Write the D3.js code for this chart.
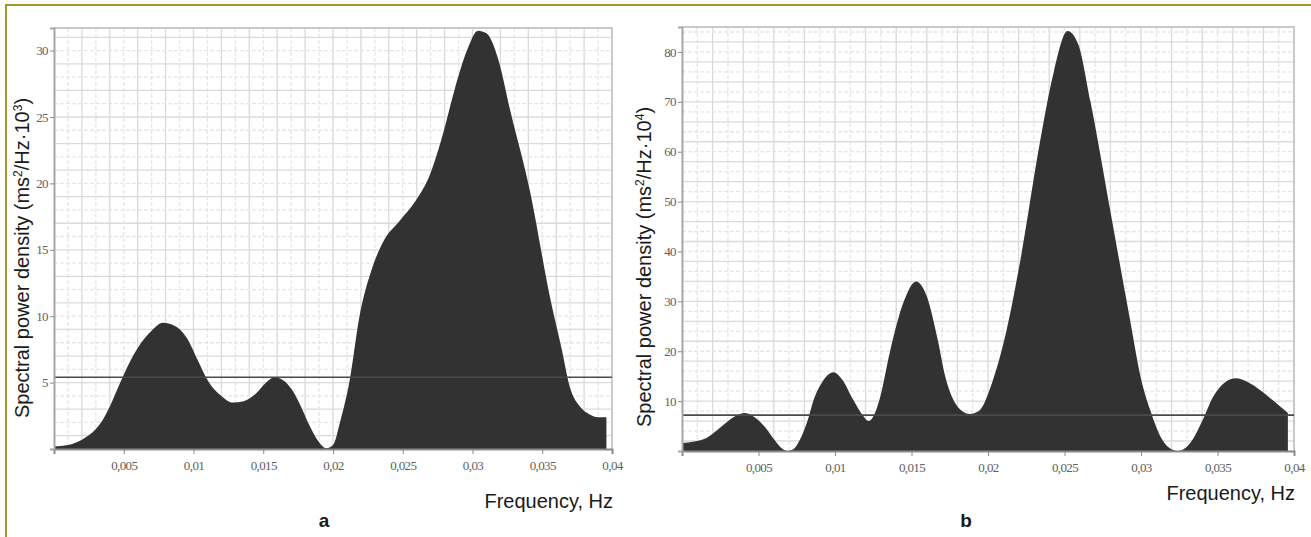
<!DOCTYPE html>
<html>
<head>
<meta charset="utf-8">
<script src="https://cdn.jsdelivr.net/npm/d3@7"></script>
<style>
  body { margin: 0; background: #fff; }
  svg { display: block; }
</style>
</head>
<body>
<script>
// Panel a: spectral power density, ms²/Hz·10³
const freqA = [0, 0.001, 0.002, 0.003, 0.0035, 0.004, 0.0045, 0.005, 0.006, 0.007, 0.0078, 0.0086, 0.0095,
  0.0103, 0.011, 0.012, 0.0128, 0.0136, 0.0145, 0.0152, 0.0158, 0.0164, 0.0171, 0.0177, 0.0183, 0.019,
  0.0195, 0.02, 0.0205, 0.0212, 0.0219, 0.0228, 0.0236, 0.0248, 0.0258, 0.027, 0.0279, 0.0287, 0.0296,
  0.0304, 0.031, 0.0318, 0.0327, 0.0341, 0.0356, 0.0364, 0.037, 0.0377, 0.0384, 0.039, 0.0396]
const psdA = [0.2, 0.3, 0.7, 1.5, 2.2, 3.2, 4.4, 5.6, 7.6, 8.9, 9.5, 9.3, 8.4,
  6.7, 5.2, 4.0, 3.5, 3.6, 4.2, 5.0, 5.4, 5.2, 4.4, 3.2, 1.8, 0.5,
  0.05, 0.3, 2.0, 5.2, 10.0, 13.6, 15.6, 17.2, 18.5, 20.8, 23.8, 27.0, 30.0,
  31.5, 31.3, 29.5, 25.5, 19.5, 11.2, 7.5, 4.6, 3.2, 2.6, 2.4, 2.4]

// Panel b: spectral power density, ms²/Hz·10⁴
const freqB = [0, 0.0008, 0.0016, 0.0027, 0.0035, 0.0041, 0.0049, 0.0055, 0.006, 0.0065, 0.0069, 0.0073,
  0.0077, 0.0082, 0.0086, 0.0092, 0.0099, 0.0105, 0.0112, 0.0118, 0.0122, 0.0126, 0.0129, 0.0136, 0.0145,
  0.0153, 0.016, 0.0167, 0.0172, 0.0177, 0.0183, 0.0188, 0.0194, 0.0203, 0.0212, 0.0221, 0.0234, 0.0243,
  0.0252, 0.0259, 0.0267, 0.028, 0.0293, 0.03, 0.0306, 0.0314, 0.0319, 0.0324, 0.0329, 0.0334, 0.034,
  0.0347, 0.0355, 0.0362, 0.037, 0.0378, 0.0386, 0.0396]
const psdB = [1.6, 1.9, 2.6, 5.2, 7.0, 7.6, 6.4, 4.5, 2.4, 0.6, 0, 0.4,
  2.2, 6.0, 10.2, 14.0, 15.8, 14.2, 10.2, 7.2, 6.0, 7.5, 10.2, 20.0, 30.0,
  34.0, 31.0, 22.5, 15.0, 10.5, 8.0, 7.4, 8.0, 14.0, 24.0, 38.0, 62.0, 76.0,
  84.2, 81.5, 70.0, 48.0, 26.0, 14.5, 8.2, 2.2, 0.5, 0, 0.6, 2.4, 6.0,
  10.8, 13.8, 14.6, 13.8, 12.2, 10.2, 7.6]

const xTicks = [0.005, 0.01, 0.015, 0.02, 0.025, 0.03, 0.035, 0.04]
const yTicksA = [5, 10, 15, 20, 25, 30]
const yTicksB = [10, 20, 30, 40, 50, 60, 70, 80]
const thresholdA = 5.4
const thresholdB = 7.2

const W = 1311
const H = 537
const sans = "'Liberation Sans', Arial, sans-serif"

const svg = d3.select('body').append('svg')
  .attr('width', W)
  .attr('height', H)

svg.append('rect').attr('width', W).attr('height', H).attr('fill', '#fff')

// Olive outer frame (only top and left edges fall inside the picture)
svg.append('rect')
  .attr('x', 6).attr('y', 5)
  .attr('width', W + 20).attr('height', H + 20)
  .attr('fill', 'none')
  .attr('stroke', '#a0972c')
  .attr('stroke-width', 2)

const commaFmt = d => String(d).replace('.', ',')

function drawPanel(cfg) {
  const x = d3.scaleLinear().domain([0, 0.04]).range([cfg.left, cfg.right])
  const y = d3.scaleLinear().domain([0, cfg.yMax]).range([cfg.bottom, cfg.top])
  const g = svg.append('g')

  // Minor grid
  const xGrid = d3.range(1, 40).map(i => i * 0.001)
  xGrid.forEach((v, i) => {
    g.append('line')
      .attr('x1', x(v)).attr('x2', x(v))
      .attr('y1', cfg.top).attr('y2', cfg.bottom)
      .attr('stroke', i % 2 === 0 ? '#e6e6e6' : '#d9d9d9')
      .attr('stroke-width', 1.3)
      .attr('stroke-dasharray', i % 2 === 0 ? '4,2' : null)
  })
  const yGrid = d3.range(cfg.yStep, cfg.yMax, cfg.yStep)
  yGrid.forEach((v, i) => {
    g.append('line')
      .attr('x1', cfg.left).attr('x2', cfg.right)
      .attr('y1', y(v)).attr('y2', y(v))
      .attr('stroke', i % 2 === 0 ? '#dbdbdb' : '#e6e6e6')
      .attr('stroke-width', 1.3)
      .attr('stroke-dasharray', i % 2 === 0 ? null : '4,2')
  })

  // Frame top and right
  g.append('path')
    .attr('d', `M${cfg.left},${cfg.top}H${cfg.right}V${cfg.bottom}`)
    .attr('fill', 'none')
    .attr('stroke', '#c9c9c9')
    .attr('stroke-width', 2)

  // Spectrum area
  const pts = cfg.freq.map((f, i) => [f, cfg.psd[i]])
  const area = d3.area()
    .x(d => x(d[0]))
    .y0(y(0))
    .y1(d => y(d[1]))
    .curve(d3.curveMonotoneX)
  g.append('path')
    .datum(pts)
    .attr('d', area)
    .attr('fill', '#323232')

  // Threshold line
  g.append('line')
    .attr('x1', cfg.left).attr('x2', cfg.right)
    .attr('y1', y(cfg.threshold)).attr('y2', y(cfg.threshold))
    .attr('stroke', '#4a4a4a')
    .attr('stroke-width', 1.6)

  // Axes
  const xAxis = d3.axisBottom(x).tickValues(xTicks).tickSize(5).tickPadding(7).tickFormat(commaFmt)
  const yAxis = d3.axisLeft(y).tickValues(cfg.yTicks).tickSize(4).tickPadding(2)

  const gx = g.append('g').attr('transform', `translate(0,${cfg.bottom})`).call(xAxis)
  const gy = g.append('g').attr('transform', `translate(${cfg.left},0)`).call(yAxis)

  gx.select('.domain').attr('stroke', '#8a8a8a').attr('stroke-width', 2)
  gy.select('.domain').attr('stroke', '#a6a6a6').attr('stroke-width', 2)
  gx.selectAll('.tick line').attr('stroke', '#8a8a8a')
  gy.selectAll('.tick line').attr('stroke', '#8a8a8a')
  ;[gx, gy].forEach(a => a.selectAll('.tick text')
    .style('font-family', "'Liberation Serif', 'DejaVu Serif', serif")
    .style('font-size', '13px')
    .style('letter-spacing', '-0.6px')
    .attr('fill', '#606060'))

  // Y title with superscripts
  const yt = g.append('text')
    .attr('transform', `translate(${cfg.yTitleX},${cfg.yTitleY}) rotate(-90)`)
    .attr('text-anchor', 'middle')
    .style('font-family', sans)
    .style('font-size', '20px')
    .attr('fill', '#1a1a1a')
  yt.append('tspan').text('Spectral power density (ms')
  yt.append('tspan').attr('dy', -7).style('font-size', '12px').text('2')
  yt.append('tspan').attr('dy', 7).text('/Hz·10')
  yt.append('tspan').attr('dy', -7).style('font-size', '12px').text(cfg.exp)
  yt.append('tspan').attr('dy', 7).text(')')

  // X title
  g.append('text')
    .attr('x', cfg.right + 1)
    .attr('y', cfg.xTitleY)
    .attr('text-anchor', 'end')
    .style('font-family', sans)
    .style('font-size', '20px')
    .attr('fill', '#1a1a1a')
    .text('Frequency, Hz')

  // Panel letter
  g.append('text')
    .attr('x', cfg.letterX)
    .attr('y', 527)
    .attr('text-anchor', 'middle')
    .style('font-family', sans)
    .style('font-size', '19px')
    .style('font-weight', 700)
    .attr('fill', '#1a1a1a')
    .text(cfg.letter)
}

drawPanel({
  left: 54, right: 612, top: 28, bottom: 449,
  yMax: 31.7, yStep: 1, yTicks: yTicksA,
  freq: freqA, psd: psdA, threshold: thresholdA,
  yTitleX: 29, yTitleY: 258, exp: '3',
  xTitleY: 508, letter: 'a', letterX: 324,
})

drawPanel({
  left: 682, right: 1294, top: 27, bottom: 451,
  yMax: 85, yStep: 2, yTicks: yTicksB,
  freq: freqB, psd: psdB, threshold: thresholdB,
  yTitleX: 651, yTitleY: 267, exp: '4',
  xTitleY: 500, letter: 'b', letterX: 966,
})
</script>
</body>
</html>
